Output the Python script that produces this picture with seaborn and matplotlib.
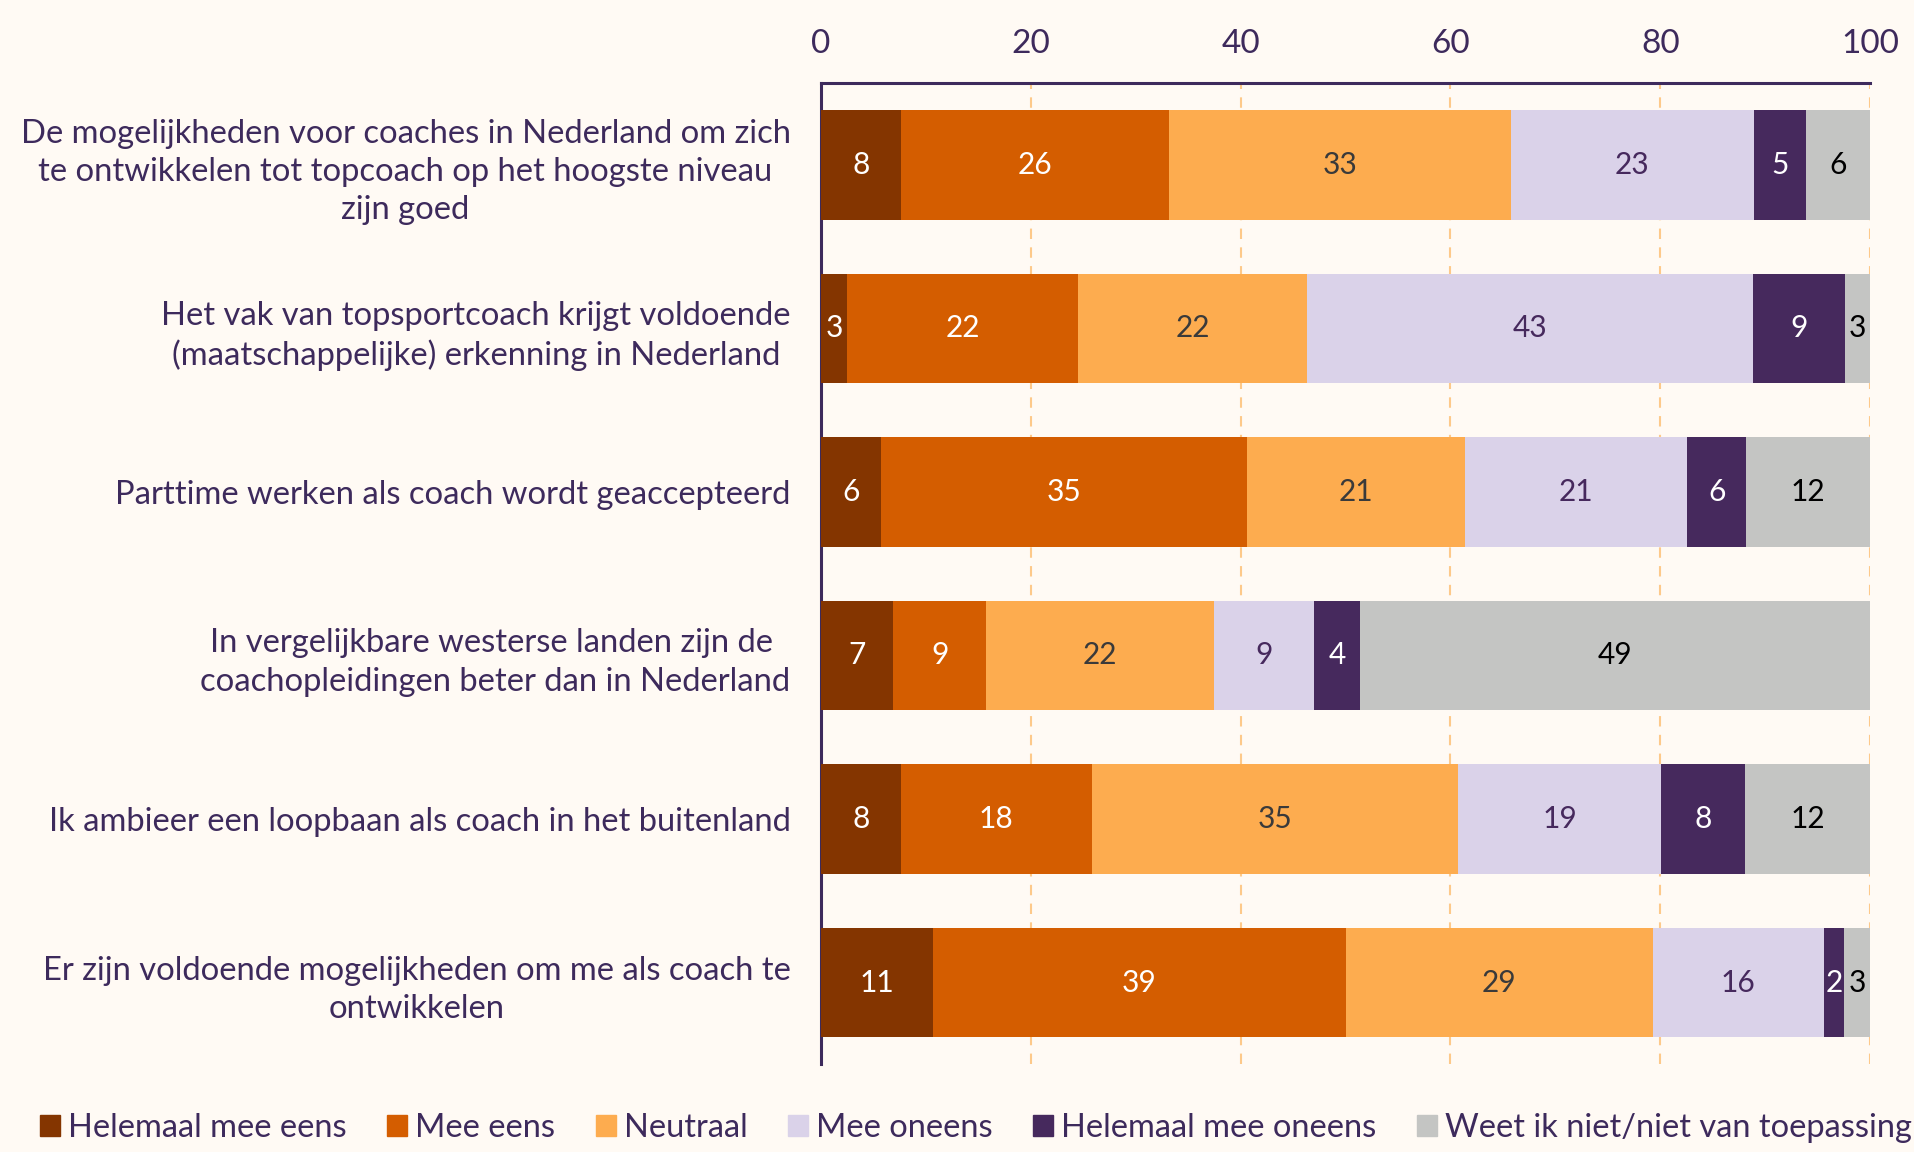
import numpy as np
import pandas as pd
import matplotlib
matplotlib.use("Agg")
import matplotlib.pyplot as plt
import seaborn as sns

# ---------------------------
# Data
# ---------------------------
statements = [
    "De mogelijkheden voor coaches in Nederland om zich\nte ontwikkelen tot topcoach op het hoogste niveau\nzijn goed",
    "Het vak van topsportcoach krijgt voldoende\n(maatschappelijke) erkenning in Nederland",
    "Parttime werken als coach wordt geaccepteerd",
    "In vergelijkbare westerse landen zijn de \ncoachopleidingen beter dan in Nederland",
    "Ik ambieer een loopbaan als coach in het buitenland",
    "Er zijn voldoende mogelijkheden om me als coach te\nontwikkelen",
]

answers = ["Helemaal mee eens", "Mee eens", "Neutraal", "Mee oneens",
           "Helemaal mee oneens", "Weet ik niet/niet van toepassing"]

# percentages per answer (one value per statement)
helemaal_eens = [7.6, 2.5, 5.7, 6.9, 7.6, 10.7]
mee_eens      = [25.6, 22.0, 34.9, 8.8, 18.2, 39.3]
neutraal      = [32.6, 21.8, 20.8, 21.8, 34.9, 29.3]
mee_oneens    = [23.1, 42.5, 21.2, 9.5, 19.4, 16.3]
helemaal_on   = [5.0, 8.8, 5.6, 4.4, 8.0, 1.9]
weet_niet     = [6.1, 2.4, 11.8, 48.6, 11.9, 2.5]

# labels as printed in the bars
lbl_helemaal_eens = [8, 3, 6, 7, 8, 11]
lbl_mee_eens      = [26, 22, 35, 9, 18, 39]
lbl_neutraal      = [33, 22, 21, 22, 35, 29]
lbl_mee_oneens    = [23, 43, 21, 9, 19, 16]
lbl_helemaal_on   = [5, 9, 6, 4, 8, 2]
lbl_weet_niet     = [6, 3, 12, 49, 12, 3]

colors = ["#843500", "#d45d00", "#fdac4f", "#dad2e9", "#46295d", "#c4c5c3"]
text_colors = ["white", "white", "#3a3a3a", "#46295d", "white", "black"]

values = [helemaal_eens, mee_eens, neutraal, mee_oneens, helemaal_on, weet_niet]
labels = [lbl_helemaal_eens, lbl_mee_eens, lbl_neutraal, lbl_mee_oneens,
          lbl_helemaal_on, lbl_weet_niet]

df = pd.DataFrame(dict(zip(answers, values)), index=statements)
cum = df.cumsum(axis=1)

# ---------------------------
# Style
# ---------------------------
bg = "#fffaf4"
txt = "#3d2a5c"
sns.set_style("white")
plt.rcParams["font.family"] = ["Lato", "DejaVu Sans"]
plt.rcParams["text.color"] = txt

fig, ax = plt.subplots(figsize=(19.14, 11.52), dpi=100)
fig.patch.set_facecolor(bg)
ax.set_facecolor(bg)

# stacked bars: draw cumulative totals from the last answer backwards
for i in reversed(range(len(answers))):
    plot_df = pd.DataFrame({"stmt": statements, "total": cum[answers[i]].values})
    sns.barplot(data=plot_df, x="total", y="stmt", orient="h", color=colors[i],
                saturation=1, width=0.67, ax=ax, zorder=3, linewidth=0)

# value labels
for i, ans in enumerate(answers):
    for j in range(len(statements)):
        center = cum[ans].iloc[j] - df[ans].iloc[j] / 2
        ax.text(center, j, str(labels[i][j]), ha="center", va="center",
                fontsize=21.5, color=text_colors[i], zorder=4)

# ---------------------------
# Axes
# ---------------------------
ax.set_xlim(0, 100)
ax.set_ylim(5.5, -0.5)
ax.set_xticks([0, 20, 40, 60, 80, 100])
ax.xaxis.tick_top()
ax.tick_params(axis="x", length=0, labelsize=24, colors=txt, pad=17)
ax.tick_params(axis="y", length=0, labelsize=23.6, colors=txt, pad=22)
for t in ax.get_yticklabels():
    t.set_multialignment("center")
    t.set_linespacing(1.35)
ax.set_xlabel("")
ax.set_ylabel("")

ax.grid(axis="x", color="#fdc98a", linestyle=(0, (5, 4)), linewidth=1.5, zorder=0)
ax.grid(axis="y", visible=False)

for side in ["right", "bottom"]:
    ax.spines[side].set_visible(False)
for side in ["top", "left"]:
    ax.spines[side].set_color(txt)
    ax.spines[side].set_linewidth(2.2)

handles = [plt.Rectangle((0, 0), 1, 1, color=c) for c in colors]
fig.legend(handles, answers, loc="lower center", ncol=6, frameon=False,
           fontsize=23.5, handlelength=0.6, handleheight=0.6, handletextpad=0.25,
           columnspacing=1.25, bbox_to_anchor=(0.51, -0.018))

plt.subplots_adjust(left=0.429, right=0.977, top=0.928, bottom=0.076)
plt.savefig("out.png", dpi=100, facecolor=bg)
